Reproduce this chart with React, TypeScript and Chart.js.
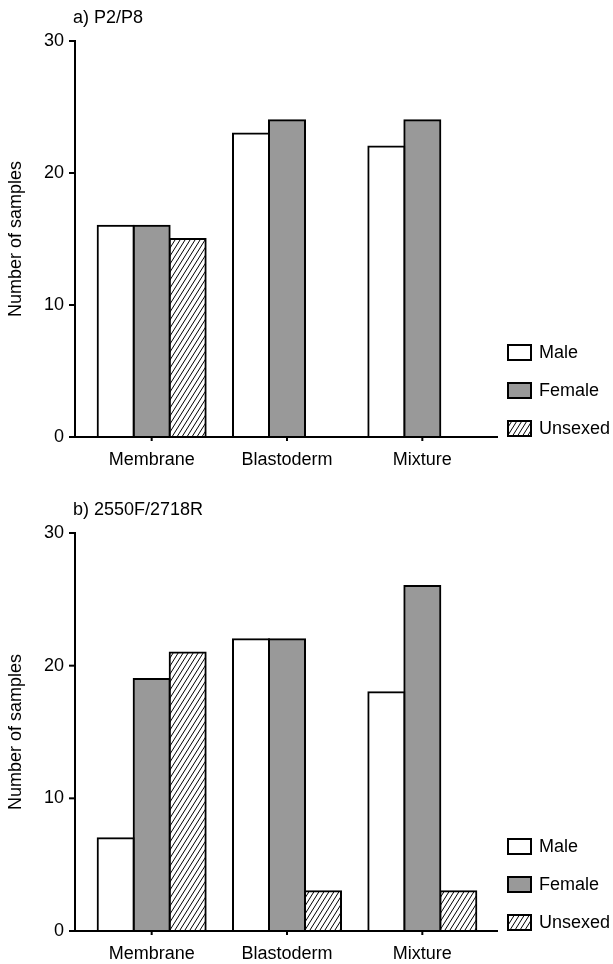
import React, { useEffect, useRef } from 'react';
import { Chart, registerables } from 'chart.js';

Chart.register(...registerables);

const categories = ['Membrane', 'Blastoderm', 'Mixture'];
const seriesLabels = ['Male', 'Female', 'Unsexed'];

const maleA = [16, 23, 22];
const femaleA = [16, 24, 24];
const unsexedA = [15, 0, 0];

const maleB = [7, 22, 18];
const femaleB = [19, 22, 26];
const unsexedB = [21, 3, 3];

const yTickValues = [0, 10, 20, 30];
const titleA = 'a) P2/P8';
const titleB = 'b) 2550F/2718R';
const yAxisTitle = 'Number of samples';

const FONT = '"Liberation Sans", Arial, Helvetica, sans-serif';
const FONT_SIZE = 18;

function makeHatch(): CanvasPattern | string {
  const c = document.createElement('canvas');
  const w = 5;
  const h = 8;
  c.width = w;
  c.height = h;
  const ctx = c.getContext('2d');
  if (!ctx) return '#ffffff';
  ctx.fillStyle = '#ffffff';
  ctx.fillRect(0, 0, w, h);
  ctx.strokeStyle = '#000000';
  ctx.lineWidth = 1;
  for (let k = -1; k <= 1; k++) {
    ctx.beginPath();
    ctx.moveTo(k * w, h);
    ctx.lineTo(k * w + w, 0);
    ctx.stroke();
  }
  const p = ctx.createPattern(c, 'repeat');
  return p || '#ffffff';
}

const decorPlugin = {
  id: 'decor',
  afterDatasetsDraw(chart: any, _args: any, opts: any) {
    const ctx = chart.ctx as CanvasRenderingContext2D;
    const { top, bottom, left, right } = chart.chartArea;
    const yScale = chart.scales.y;
    const xScale = chart.scales.x;
    const axisX = left - 9;
    ctx.save();
    ctx.fillStyle = '#000000';
    // y axis line
    ctx.fillRect(axisX - 1, top - 1, 2, bottom - top + 2);
    // y tick marks
    yTickValues.forEach((v) => {
      const py = yScale.getPixelForValue(v);
      ctx.fillRect(axisX - 6, py - 1, 6, 2);
    });
    // x axis line
    ctx.fillRect(axisX - 1, bottom - 1, right + 8 - axisX + 1, 2);
    // x tick marks
    categories.forEach((_c, i) => {
      const px = xScale.getPixelForValue(i);
      ctx.fillRect(px - 1, bottom, 2, 4);
    });
    // title
    ctx.font = `${FONT_SIZE}px ${FONT}`;
    ctx.textAlign = 'left';
    ctx.textBaseline = 'alphabetic';
    ctx.fillText(opts.title || '', axisX - 2, top - 18);
    // legend
    const boxX = right + 17;
    const boxW = 25;
    const boxH = 17;
    const rowGap = 38;
    const n = chart.data.datasets.length;
    chart.data.datasets.forEach((ds: any, i: number) => {
      const fromBottom = n - 1 - i;
      const by = bottom - boxH - fromBottom * rowGap;
      ctx.fillStyle = ds.backgroundColor;
      ctx.fillRect(boxX, by, boxW, boxH);
      ctx.strokeStyle = '#000000';
      ctx.lineWidth = 2;
      ctx.strokeRect(boxX + 1, by + 1, boxW - 2, boxH - 2);
      ctx.fillStyle = '#000000';
      ctx.textBaseline = 'middle';
      ctx.fillText(ds.label, boxX + boxW + 7, by + boxH / 2 + 1);
    });
    ctx.restore();
  },
};

type PanelProps = {
  title: string;
  male: number[];
  female: number[];
  unsexed: number[];
  height: number;
  plotTop: number;
  plotBottom: number;
};

function Panel({ title, male, female, unsexed, height, plotTop, plotBottom }: PanelProps) {
  const ref = useRef<HTMLCanvasElement>(null);
  useEffect(() => {
    if (!ref.current) return;
    const hatch = makeHatch();
    const common = {
      borderColor: '#000000',
      borderWidth: 2,
      borderSkipped: 'start',
      inflateAmount: 1,
      barPercentage: 1,
      categoryPercentage: 0.798,
    };
    const chart = new Chart(ref.current, {
      type: 'bar',
      data: {
        labels: categories,
        datasets: [
          { ...common, label: seriesLabels[0], data: male, backgroundColor: '#ffffff' },
          { ...common, label: seriesLabels[1], data: female, backgroundColor: '#999999' },
          { ...common, label: seriesLabels[2], data: unsexed, backgroundColor: hatch },
        ] as any,
      },
      options: {
        responsive: false,
        animation: false,
        events: [],
        layout: { padding: { top: plotTop, left: 0, right: 123, bottom: 0 } },
        plugins: {
          legend: { display: false },
          tooltip: { enabled: false },
          title: { display: false },
          decor: { title },
        } as any,
        scales: {
          x: {
            type: 'category',
            grid: { display: false, drawTicks: false },
            border: { display: false },
            ticks: {
              color: '#000000',
              font: { family: FONT, size: FONT_SIZE },
              padding: 12.5,
              maxRotation: 0,
              autoSkip: false,
            },
            afterFit: (s: any) => {
              s.height = height - plotBottom;
            },
          },
          y: {
            min: 0,
            max: 30,
            grid: { display: false, drawTicks: false },
            border: { display: false },
            ticks: {
              color: '#000000',
              font: { family: FONT, size: FONT_SIZE },
              padding: 20,
            },
            afterBuildTicks: (s: any) => {
              s.ticks = yTickValues.map((v) => ({ value: v }));
            },
            afterFit: (s: any) => {
              s.width = 84;
            },
            title: {
              display: true,
              text: yAxisTitle,
              color: '#000000',
              font: { family: FONT, size: FONT_SIZE },
              padding: { top: 5, bottom: 0 },
            },
          },
        },
      } as any,
      plugins: [decorPlugin as any],
    });
    return () => chart.destroy();
  }, []);
  return (
    <canvas
      ref={ref}
      width={613}
      height={height}
      style={{ display: 'block', width: 613, height }}
    />
  );
}

export default function App() {
  return (
    <div style={{ width: 613, background: '#ffffff' }}>
      <style>{'body{margin:0;background:#ffffff;}'}</style>
      <Panel title={titleA} male={maleA} female={femaleA} unsexed={unsexedA} height={482} plotTop={41} plotBottom={437} />
      <Panel title={titleB} male={maleB} female={femaleB} unsexed={unsexedB} height={482} plotTop={51} plotBottom={449} />
    </div>
  );
}
